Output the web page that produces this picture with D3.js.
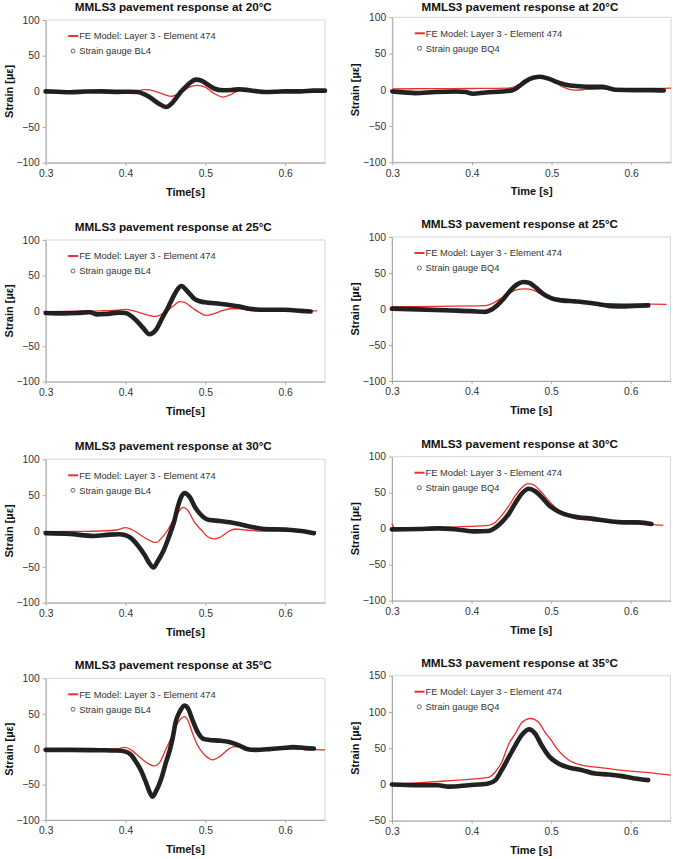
<!DOCTYPE html>
<html><head><meta charset="utf-8">
<script src="https://cdn.jsdelivr.net/npm/d3@7"></script>
<style>body{margin:0;background:#fff}svg{display:block}text{font-family:"Liberation Sans",Arial,sans-serif}</style>
</head><body><svg id="c" width="673" height="859"></svg>
<script>
// ---------- DATA (time [s], strain [µε]) ----------
// 20°C, BL4
const g20L_t = [0.300,0.315,0.330,0.350,0.370,0.390,0.405,0.415,0.430,0.443,0.451,0.458,0.463,0.470,0.476,0.482,0.488,0.495,0.501,0.511,0.522,0.533,0.543,0.555,0.565,0.575,0.590,0.600,0.620,0.635,0.650];
const g20L_v = [0,-0.5,-1.2,-0.3,0,-0.8,-0.5,-1,-8,-18,-22,-17,-10,0,7,13,16.5,15,11,4,1.5,2,3,1.5,0,-1,-0.5,0,0,1,1];
const f20L_t = [0.300,0.350,0.400,0.415,0.422,0.430,0.445,0.457,0.465,0.472,0.480,0.490,0.500,0.511,0.522,0.532,0.543,0.551,0.600,0.650];
const f20L_v = [0,0,0,0,2.5,2,-3,-7,-4,0,6,8.5,6,-3,-8,-4.5,1,0,0,0];
// 20°C, BQ4
const g20R_t = [0.300,0.315,0.329,0.354,0.380,0.392,0.401,0.417,0.438,0.451,0.459,0.467,0.478,0.486,0.497,0.507,0.518,0.534,0.551,0.564,0.572,0.580,0.605,0.625,0.641];
const g20R_v = [-2.3,-3.5,-4.6,-3,-2.3,-3,-5.5,-3.7,-2.3,-0.5,4.6,11.5,17,18,15,10.6,7,5,4,4,2.3,0,-0.5,-0.5,-1];
const f20R_t = [0.300,0.350,0.400,0.446,0.457,0.467,0.478,0.486,0.497,0.507,0.520,0.532,0.543,0.559,0.585,0.650];
const f20R_v = [1.4,1.5,1.8,2.3,6,11.5,16,18,14.7,8.3,1.4,-0.5,0.5,1.4,1.4,2.3];
// 25°C, BL4
const g25L_t = [0.300,0.320,0.340,0.355,0.365,0.375,0.392,0.400,0.413,0.422,0.430,0.438,0.447,0.453,0.459,0.465,0.470,0.478,0.488,0.499,0.509,0.526,0.543,0.559,0.576,0.600,0.620,0.632];
const g25L_v = [-3,-3.5,-3,-2,-5,-4.5,-2.5,-3,-13,-24,-33,-27,-8,4,18,30,35,27,15.5,12,11,9,6,2.5,1.5,1.5,0,-1];
const f25L_t = [0.300,0.340,0.368,0.390,0.400,0.410,0.422,0.437,0.451,0.459,0.468,0.474,0.484,0.492,0.501,0.511,0.522,0.532,0.543,0.560,0.600,0.640];
const f25L_v = [-1,-0.5,0,1,2,0,-4,-8,-1,6,13,12,4,-2,-6.5,-4,0.5,3,3,0,0,0];
// 25°C, BQ4
const g25R_t = [0.300,0.333,0.375,0.400,0.417,0.423,0.432,0.440,0.449,0.457,0.465,0.472,0.480,0.490,0.500,0.513,0.530,0.547,0.564,0.576,0.593,0.610,0.622];
const g25R_v = [0.5,-0.5,-2,-3,-4,-2,5,14,26,34,37.5,36.6,30.5,21,15,12,10.6,8.8,6,4,3.7,4.6,5];
const f25R_t = [0.300,0.354,0.417,0.425,0.436,0.446,0.457,0.467,0.478,0.490,0.500,0.513,0.530,0.551,0.576,0.610,0.645];
const f25R_v = [2.8,3.7,4.6,7,14,21,27,28,26,19,14,11.6,10.6,8.3,7.4,7,6.5];
// 30°C, BL4
const g30L_t = [0.300,0.330,0.360,0.380,0.392,0.400,0.407,0.415,0.424,0.430,0.435,0.440,0.447,0.453,0.457,0.461,0.465,0.469,0.474,0.480,0.488,0.497,0.505,0.518,0.534,0.547,0.563,0.576,0.600,0.620,0.636];
const g30L_v = [-3,-4,-7,-5,-4.5,-6,-10,-19.5,-33.5,-45,-51,-43,-29,-12.5,0,13,31.6,45.6,53,48,31.6,20,15.3,14,11.6,8.4,4.7,2.8,2,0,-3];
const f30L_t = [0.300,0.340,0.368,0.389,0.400,0.409,0.422,0.434,0.439,0.445,0.453,0.461,0.468,0.472,0.478,0.486,0.495,0.503,0.511,0.520,0.530,0.538,0.551,0.568,0.600,0.639];
const f30L_v = [-1,-0.5,0,1.4,4.6,1.4,-8,-15,-16,-10,1.4,17.7,29,33,29,13,1.4,-8,-11,-8,0,2.8,1.4,0,0,-1];
// 30°C, BQ4
const g30R_t = [0.300,0.333,0.358,0.384,0.405,0.421,0.430,0.438,0.447,0.455,0.463,0.472,0.480,0.488,0.498,0.509,0.522,0.534,0.551,0.572,0.593,0.610,0.626];
const g30R_v = [-1,-0.5,0.5,-1.4,-3.7,-3.2,1.4,9,21,35.6,48.6,55.5,52,44,32,24,18.5,16,14,10.6,8.8,8.8,6.5];
const f30R_t = [0.300,0.304,0.333,0.363,0.396,0.421,0.430,0.438,0.447,0.455,0.463,0.471,0.478,0.486,0.497,0.507,0.518,0.530,0.551,0.576,0.601,0.626,0.641];
const f30R_v = [7,0,0,1.4,3.2,4.6,9,18.5,32,46,57,62.5,61,53,39,27.8,19.4,14,11.6,9.3,7.4,6,4.6];
// 35°C, BL4
const g35L_t = [0.300,0.330,0.368,0.389,0.400,0.407,0.413,0.419,0.426,0.430,0.434,0.438,0.445,0.451,0.455,0.459,0.463,0.468,0.474,0.478,0.484,0.490,0.497,0.505,0.518,0.530,0.543,0.553,0.563,0.580,0.600,0.610,0.625,0.636];
const g35L_v = [-1,-1,-1.5,-2,-3.5,-8,-17.6,-29,-48,-60,-67,-60,-41,-17.6,-3.5,15,39,53,61.5,58,41,25,15,13,12,10,5,0,-1,0,2,3,1.5,1];
const f35L_t = [0.300,0.350,0.389,0.399,0.407,0.417,0.428,0.436,0.442,0.451,0.457,0.463,0.470,0.474,0.478,0.484,0.490,0.499,0.509,0.518,0.528,0.536,0.547,0.559,0.600,0.650];
const f35L_v = [-1,0,0,2.6,-1,-10.5,-20,-23.7,-20,1,15,32,43.6,46,41,22.4,6,-8,-15,-10.5,-1,3.5,3,0,0,-1];
// 35°C, BQ4
const g35R_t = [0.300,0.333,0.358,0.371,0.396,0.421,0.430,0.438,0.447,0.455,0.463,0.472,0.480,0.488,0.498,0.509,0.522,0.538,0.555,0.572,0.589,0.605,0.622];
const g35R_v = [0,-1,-1,-3,-1,1.4,6,20,38,54,68,76,70,54,38,29,23.4,20,15,13.8,11.5,8.3,6];
const f35R_t = [0.300,0.354,0.396,0.421,0.430,0.438,0.447,0.455,0.463,0.474,0.484,0.492,0.500,0.509,0.522,0.538,0.564,0.593,0.626,0.650];
const f35R_v = [0,3.7,7,9.7,17.5,31,56.5,70,85,91,86,72.6,61,47,33.6,26.7,23,19,16,12.9];

const xTicks = [0.3,0.4,0.5,0.6];
const yTicksStd = [-100,-50,0,50,100];
const yTicks35R = [-50,0,50,100,150];
const feLabel = "FE Model: Layer 3 - Element 474";

// ---------- LAYOUT ----------
const panels = [
 {temp:"20", gauge:"BL4", xlab:"Time[s]", yDom:[-100,100], yt:yTicksStd, gt:g20L_t, gv:g20L_v, ft:f20L_t, fv:f20L_v, b:[45.7,325,20,162.7]},
 {temp:"20", gauge:"BQ4", xlab:"Time [s]", yDom:[-100,100], yt:yTicksStd, gt:g20R_t, gv:g20R_v, ft:f20R_t, fv:f20R_v, b:[392.3,671,17.3,162.3]},
 {temp:"25", gauge:"BL4", xlab:"Time[s]", yDom:[-100,100], yt:yTicksStd, gt:g25L_t, gv:g25L_v, ft:f25L_t, fv:f25L_v, b:[45.7,325,240,381.7]},
 {temp:"25", gauge:"BQ4", xlab:"Time [s]", yDom:[-100,100], yt:yTicksStd, gt:g25R_t, gv:g25R_v, ft:f25R_t, fv:f25R_v, b:[392,670.5,237,381]},
 {temp:"30", gauge:"BL4", xlab:"Time[s]", yDom:[-100,100], yt:yTicksStd, gt:g30L_t, gv:g30L_v, ft:f30L_t, fv:f30L_v, b:[45.7,325,459.3,602.7]},
 {temp:"30", gauge:"BQ4", xlab:"Time [s]", yDom:[-100,100], yt:yTicksStd, gt:g30R_t, gv:g30R_v, ft:f30R_t, fv:f30R_v, b:[392,670.5,456.7,600.7]},
 {temp:"35", gauge:"BL4", xlab:"Time[s]", yDom:[-100,100], yt:yTicksStd, gt:g35L_t, gv:g35L_v, ft:f35L_t, fv:f35L_v, b:[45.7,325,678.3,820]},
 {temp:"35", gauge:"BQ4", xlab:"Time [s]", yDom:[-50,150], yt:yTicks35R, gt:g35R_t, gv:g35R_v, ft:f35R_t, fv:f35R_v, b:[392,670.5,675.7,820.7]}
];

const svg = d3.select("#c");
const RED = "#e8302c", BLK = "#161616";

panels.forEach(p => {
  const [x0,x1,y0,y1] = p.b;
  const x = d3.scaleLinear().domain([0.3,0.65]).range([x0,x1]);
  const y = d3.scaleLinear().domain(p.yDom).range([y1,y0]);
  const g = svg.append("g");

  // plot frame
  g.append("rect").attr("x",x0).attr("y",y0).attr("width",x1-x0).attr("height",y1-y0)
    .attr("fill","none").attr("stroke","#d6d6d6").attr("stroke-width",1);

  // axes
  const ax = g.append("g").attr("transform",`translate(0,${y1})`)
    .call(d3.axisBottom(x).tickValues(xTicks).tickFormat(d3.format(".1f")).tickSizeInner(3).tickSizeOuter(0).tickPadding(4));
  const ay = g.append("g").attr("transform",`translate(${x0},0)`)
    .call(d3.axisLeft(y).tickValues(p.yt).tickFormat(d3.format("d")).tickSizeInner(3).tickSizeOuter(0).tickPadding(3));
  [ax,ay].forEach(a => {
    a.select(".domain").attr("stroke","#a8a8a8");
    a.selectAll(".tick line").attr("stroke","#a8a8a8");
    a.selectAll(".tick text").attr("font-size","10.3px").attr("fill","#333")
      .attr("font-family",'"Liberation Sans",Arial,sans-serif');
  });

  // series
  const line = d3.line().x(d=>x(d[0])).y(d=>y(d[1])).curve(d3.curveMonotoneX);
  const fe = d3.zip(p.ft,p.fv), ga = d3.zip(p.gt,p.gv);
  g.append("path").datum(fe).attr("d",line).attr("fill","none").attr("stroke",RED).attr("stroke-width",1.3);
  g.append("path").datum(ga).attr("d",line).attr("fill","none").attr("stroke",BLK)
    .attr("stroke-width",4.6).attr("stroke-linejoin","round").attr("stroke-linecap","round").attr("opacity",0.95);

  // legend
  g.append("line").attr("x1",x0+22.5).attr("x2",x0+32.5).attr("y1",y0+16).attr("y2",y0+16)
    .attr("stroke",RED).attr("stroke-width",2);
  g.append("text").attr("x",x0+33.5).attr("y",y0+16).attr("dy","0.35em")
    .attr("font-size","9.3px").attr("fill","#333").text(feLabel);
  g.append("circle").attr("cx",x0+27.3).attr("cy",y0+31).attr("r",2)
    .attr("fill","#fff").attr("stroke","#555").attr("stroke-width",0.9);
  g.append("text").attr("x",x0+33.5).attr("y",y0+31).attr("dy","0.35em")
    .attr("font-size","9.3px").attr("fill","#333").text("Strain gauge " + p.gauge);

  // titles
  g.append("text").attr("x",x0+127.6).attr("y",Math.max(y0-13,6.5)).attr("dy","0.35em").attr("text-anchor","middle")
    .attr("font-size","11.7px").attr("font-weight","bold").attr("fill","#111")
    .text(`MMLS3 pavement response at ${p.temp}°C`);
  g.append("text").attr("x",(x0+x1)/2).attr("y",y1+29).attr("dy","0.35em").attr("text-anchor","middle")
    .attr("font-size","11px").attr("font-weight","bold").attr("fill","#111").text(p.xlab);
  g.append("text").attr("transform",`translate(${x0-37},${(y0+y1)/2}) rotate(-90)`).attr("dy","0.35em")
    .attr("text-anchor","middle").attr("font-size","11px").attr("font-weight","bold").attr("fill","#111")
    .text("Strain [µε]");
});
</script></body></html>
